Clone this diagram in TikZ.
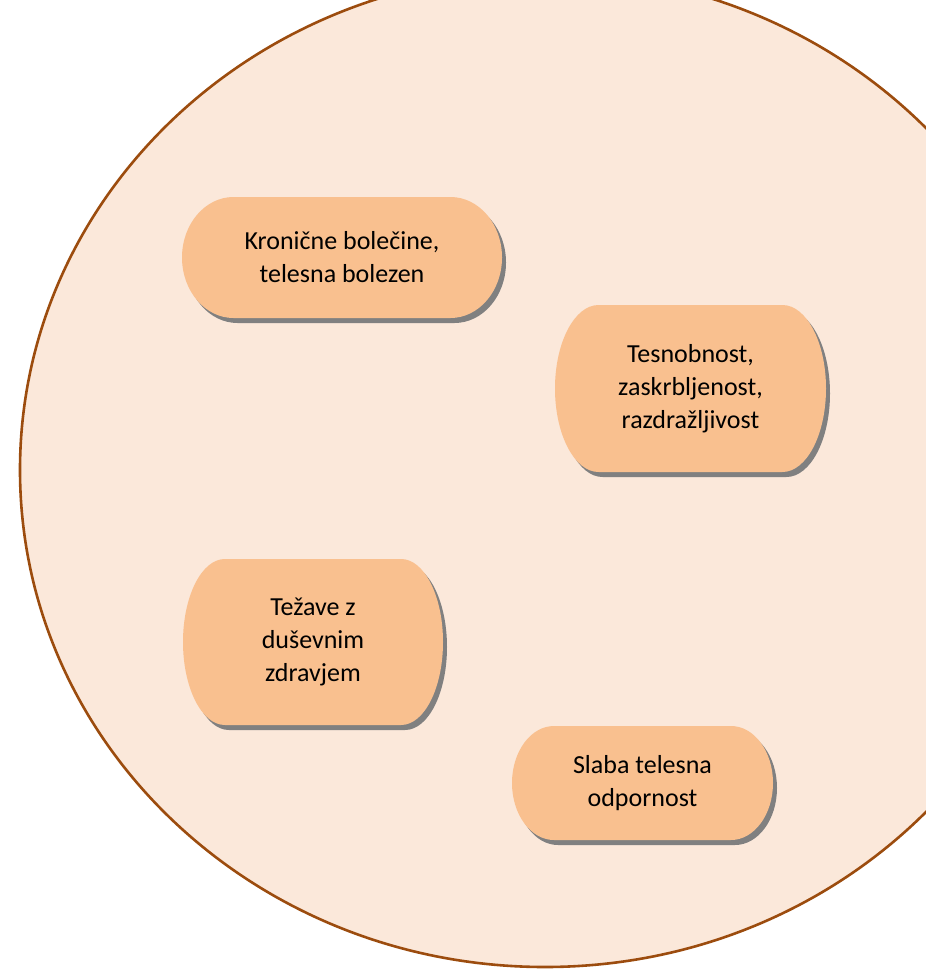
\documentclass[tikz,border=0pt]{standalone}
\usepackage{fontspec}
\setmainfont{Carlito}
\definecolor{bgc}{RGB}{251,232,218}
\definecolor{edgec}{RGB}{156,76,14}
\definecolor{boxc}{RGB}{249,192,143}
\definecolor{shadowc}{RGB}{128,128,128}
\tikzset{
  txt/.style={align=center, inner sep=0pt, font=\fontsize{26}{33}\selectfont, text=black},
}
\newcommand\tbox[6]{% name, cx, cy, w, h, text
  \pgfmathsetmacro\trx{0.161*#4}%
  \pgfmathsetmacro\try{#5/2}%
  \pgfmathsetmacro\thw{#4/2}%
  \fill[shadowc] (#2-\thw+\trx+4,#3-\try+5) -- (#2+\thw-\trx+4,#3-\try+5)
  arc[start angle=-90,end angle=90,x radius=\trx,y radius=\try]
  -- (#2-\thw+\trx+4,#3+\try+5)
  arc[start angle=90,end angle=270,x radius=\trx,y radius=\try] -- cycle;
  \fill[boxc] (#2-\thw+\trx,#3-\try) -- (#2+\thw-\trx,#3-\try)
  arc[start angle=-90,end angle=90,x radius=\trx,y radius=\try]
  -- (#2-\thw+\trx,#3+\try)
  arc[start angle=90,end angle=270,x radius=\trx,y radius=\try] -- cycle;
  \node[txt] (#1) at (#2,#3) {#6};
}
\begin{document}
\begin{tikzpicture}[x=1pt,y=-1pt]
\useasboundingbox (0,0) rectangle (926,969);
\fill[white] (0,0) rectangle (926,969);
\begin{scope}
\clip (0,0) rectangle (926,969);
\draw[edgec, line width=2.6pt, fill=bgc] (545,470) ellipse [x radius=525, y radius=497];
\end{scope}
\tbox{k1}{342}{257.5}{320}{121}{Kronične bolečine,\\telesna bolezen}
\tbox{k2}{690.5}{388.5}{271}{167}{Tesnobnost,\\zaskrbljenost,\\razdražljivost}
\tbox{k3}{313}{642}{260}{166}{Težave z\\duševnim\\zdravjem}
\tbox{k4}{642.5}{783}{261}{114}{Slaba telesna\\odpornost}
\end{tikzpicture}
\end{document}
